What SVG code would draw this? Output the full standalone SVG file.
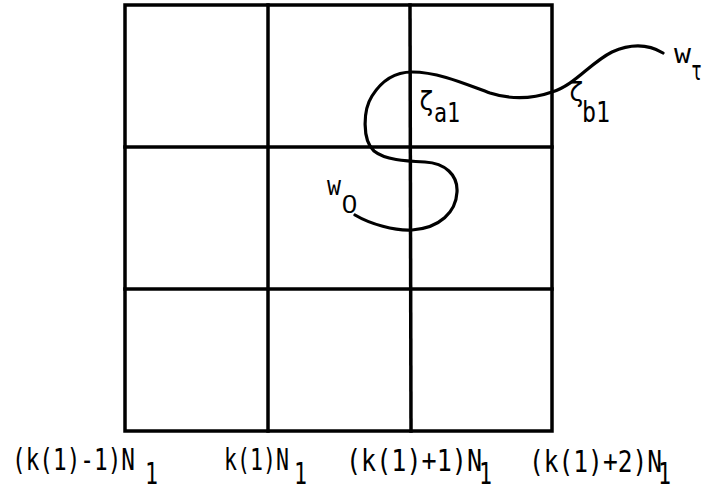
<svg xmlns="http://www.w3.org/2000/svg" width="703" height="491" viewBox="0 0 703 491">
<style>
.grid{stroke:#000;stroke-width:3.5;fill:none;stroke-linecap:square}
.curve{stroke:#000;stroke-width:3.2;fill:none;stroke-linecap:round;stroke-linejoin:round}
text{font-family:"DejaVu Sans Mono","Liberation Mono",monospace;fill:#000}
.big{font-size:31px}
.sm{font-size:27px}
</style>
<rect width="703" height="491" fill="#fff"/>
<g id="grid">
<rect class="grid" x="125" y="5" width="427" height="426"/>
<line class="grid" x1="268" y1="5" x2="268" y2="431"/>
<line class="grid" x1="410" y1="5" x2="411" y2="431"/>
<line class="grid" x1="125" y1="147" x2="552" y2="147"/>
<line class="grid" x1="125" y1="289" x2="552" y2="289"/>
</g>
<g id="connectors">
<path class="curve" d="M355,215 C370,224 395,231 412,230 C440,228 456,212 457,192 C458,175 445,163 425,162 C405,161 385,160 374,151 C362,140 363,110 372,96 C382,80 395,72 412,72 C440,72 470,86 490,93 C515,101 535,98 552,92 C575,85 590,63 612,52 C630,44 648,44 663,53"/>
</g>
<g id="w0">
<text class="sm" x="327" y="195" textLength="14" lengthAdjust="spacingAndGlyphs">w</text>
<text class="sm" x="342" y="213" style="font-family:'Liberation Sans',sans-serif;font-size:25px" textLength="15" lengthAdjust="spacingAndGlyphs">0</text>
</g>
<g id="wtau">
<text class="sm" x="674" y="63" textLength="17" lengthAdjust="spacingAndGlyphs">w</text>
<text class="sm" x="691" y="80" textLength="11" lengthAdjust="spacingAndGlyphs">τ</text>
</g>
<g id="zeta-a1">
<text class="sm" x="419" y="110" textLength="15" lengthAdjust="spacingAndGlyphs">ζ</text>
<text class="sm" x="434" y="122" textLength="26" lengthAdjust="spacingAndGlyphs">a1</text>
</g>
<g id="zeta-b1">
<text class="sm" x="569" y="101" textLength="15" lengthAdjust="spacingAndGlyphs">ζ</text>
<text class="sm" x="582" y="122" style="font-size:29px" textLength="28" lengthAdjust="spacingAndGlyphs">b1</text>
</g>
<g id="label1">
<text class="big" x="12" y="470" textLength="123" lengthAdjust="spacingAndGlyphs">(k(1)-1)N</text>
<text class="big" x="145" y="484" textLength="13" lengthAdjust="spacingAndGlyphs">1</text>
</g>
<g id="label2">
<text class="big" x="224" y="470" textLength="65" lengthAdjust="spacingAndGlyphs">k(1)N</text>
<text class="big" x="294" y="484" textLength="13" lengthAdjust="spacingAndGlyphs">1</text>
</g>
<g id="label3">
<text class="big" x="346" y="471" textLength="136" lengthAdjust="spacingAndGlyphs">(k(1)+1)N</text>
<text class="big" x="479" y="484" textLength="13" lengthAdjust="spacingAndGlyphs">1</text>
</g>
<g id="label4">
<text class="big" x="529" y="472" textLength="133" lengthAdjust="spacingAndGlyphs">(k(1)+2)N</text>
<text class="big" x="658" y="484" textLength="13" lengthAdjust="spacingAndGlyphs">1</text>
</g>
</svg>
